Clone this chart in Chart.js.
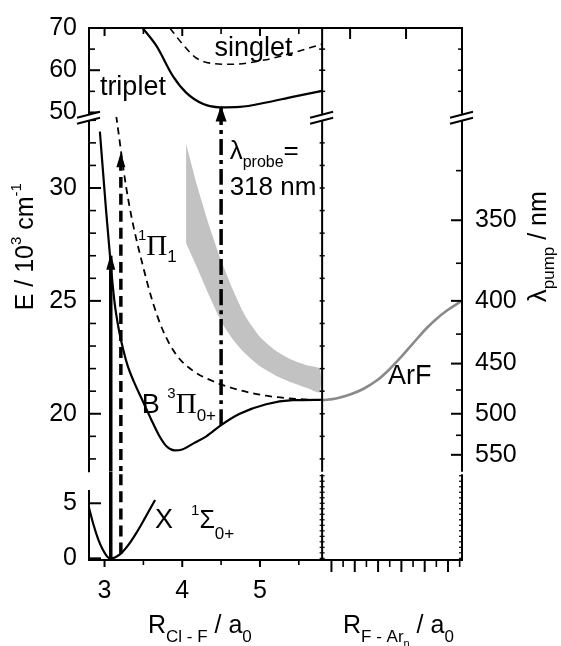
<!DOCTYPE html>
<html>
<head>
<meta charset="utf-8">
<script src="https://cdn.jsdelivr.net/npm/chart.js@4.4.1/dist/chart.umd.min.js"></script>
<style>
  html, body { margin: 0; padding: 0; background: #fff; }
  canvas { display: block; }
</style>
</head>
<body>
<canvas id="pes" width="561" height="646"></canvas>
<script>
// energies in 10^3 cm^-1, distances in a0

// axis ranges of the broken panels
const rClMin = 2.8, rClMax = 5.8;
const rArMin = 3.6, rArMax = 9.6;
const eTopMin = 49.0, eTopMax = 70;
const eMidMin = 17.45, eMidMax = 33.16;
const eBotMin = -0.15, eBotMax = 7.9;
const leftAxisBotTop = 6.2;

// tick values
const rClTicks = [3, 4, 5];
const rClMinor = [3.5, 4.5, 5.5];
const rArTicks = [4, 5, 6, 7, 8, 9];
const rArMinor = [4.5, 5.5, 6.5, 7.5, 8.5, 9.5];
const rArTopTicks = [4.8, 7.2];
const eTopTicks = [50, 60, 70];
const eTopMinor = [55, 65];
const eMidTicks = [20, 25, 30];
const eMidMinor = [18, 19, 21, 22, 23, 24, 26, 27, 28, 29, 31, 32, 33];
const eBotTicks = [0, 5];
const eBotFine = [0, 0.5, 1, 1.5, 2, 2.5, 3, 3.5, 4, 4.5, 5, 5.5, 6, 6.5, 7, 7.5];
const lambdaTicks = [350, 400, 450, 500, 550];
const lambdaMinor = [325, 375, 425, 475, 525];

// potential curves
const groundR = [2.80, 2.86, 2.92, 2.98, 3.03, 3.08, 3.14, 3.22, 3.30, 3.40, 3.52, 3.65];
const groundE = [4.6, 3.0, 1.7, 0.75, 0.2, 0.0, 0.1, 0.5, 1.15, 2.2, 3.65, 5.3];
const bStateR = [2.94, 3.02, 3.08, 3.13, 3.18, 3.24, 3.30, 3.38, 3.50, 3.60, 3.70, 3.80, 3.90, 4.00, 4.15, 4.31, 4.50, 4.74, 5.08, 5.42, 5.80];
const bStateE = [32.5, 29.0, 26.6, 24.9, 23.8, 22.85, 22.1, 21.4, 20.5, 19.75, 19.05, 18.55, 18.38, 18.42, 18.7, 19.0, 19.5, 20.0, 20.42, 20.6, 20.62];
const pi1R = [3.15, 3.28, 3.36, 3.49, 3.62, 3.75, 3.92, 4.14, 4.39, 4.65, 5.08, 5.51, 5.80];
const pi1E = [33.2, 30.0, 28.5, 26.6, 24.95, 23.7, 22.63, 21.9, 21.45, 21.13, 20.8, 20.65, 20.6];
const tripletR = [3.49, 3.67, 3.88, 4.05, 4.27, 4.48, 4.74, 5.08, 5.42, 5.80];
const tripletE = [70, 65.7, 58.6, 54.7, 52.0, 51.2, 51.3, 52.35, 53.7, 55.1];
const singletR = [3.84, 3.99, 4.18, 4.39, 4.65, 5.08, 5.42, 5.80];
const singletE = [70, 66.5, 62.9, 61.6, 61.4, 62.5, 64.1, 66.2];
const arfR = [3.6, 4.2, 4.8, 5.4, 5.94, 6.45, 6.94, 7.5, 8.09, 8.5, 8.94, 9.59];
const arfE = [20.6, 20.68, 20.85, 21.12, 21.47, 21.93, 22.46, 23.12, 23.8, 24.2, 24.56, 25.0];

// shaded band (upper and lower edge)
const bandUpperR = [4.05, 4.2, 4.35, 4.5, 4.65, 4.8, 5.0, 5.2, 5.4, 5.6, 5.77];
const bandUpperE = [31.95, 30.0, 28.3, 26.8, 25.5, 24.4, 23.4, 22.8, 22.4, 22.15, 22.0];
const bandLowerR = [4.05, 4.2, 4.35, 4.5, 4.65, 4.8, 5.0, 5.2, 5.4, 5.6, 5.77];
const bandLowerE = [27.55, 26.4, 25.2, 24.1, 23.3, 22.7, 22.1, 21.7, 21.4, 21.15, 20.95];

// vertical transitions: pump (solid, dashed) and probe (dash-dot)
const arrowR = [3.08, 3.21, 4.50];
const arrowFrom = [0.0, 0.45, 19.5];
const arrowTo = [27.0, 31.5, 51.2];

const SANS = "'Liberation Sans', Arial, Helvetica, sans-serif";
const SERIF = "'Liberation Serif', 'Times New Roman', serif";

Chart.defaults.font.family = SANS;
Chart.defaults.font.size = 25;
Chart.defaults.color = '#000';

const panelRange = { yBot: [eBotMin, eBotMax], yMid: [eMidMin, eMidMax], yTop: [eTopMin, eTopMax] };

function pts(xs, ys) {
  return xs.map((x, i) => ({ x: x, y: ys[i] }));
}

const datasets = [];
function curve(xs, ys, xAxis, yAxis, style) {
  datasets.push(Object.assign({
    type: 'line',
    data: pts(xs, ys),
    xAxisID: xAxis,
    yAxisID: yAxis,
    pointRadius: 0,
    borderColor: '#000',
    borderWidth: 2,
    fill: false,
    cubicInterpolationMode: 'monotone',
    order: 1
  }, style));
}

// band as closed shape
datasets.push({
  type: 'line',
  data: pts(bandUpperR, bandUpperE).concat(pts(bandLowerR, bandLowerE).reverse()),
  xAxisID: 'xL', yAxisID: 'yMid',
  pointRadius: 0, borderWidth: 0, borderColor: 'rgba(0,0,0,0)',
  backgroundColor: '#c2c2c2', fill: 'shape', tension: 0.2, order: 10
});

curve(groundR, groundE, 'xL', 'yBot', { borderWidth: 2.2 });
curve(bStateR, bStateE, 'xL', 'yMid', { borderWidth: 2.2 });
curve(pi1R, pi1E, 'xL', 'yMid', { borderWidth: 1.8, borderDash: [7, 5] });
curve(tripletR, tripletE, 'xL', 'yTop', { borderWidth: 2.2 });
curve(singletR, singletE, 'xL', 'yTop', { borderWidth: 1.6, borderDash: [7, 5] });
curve(arfR, arfE, 'xR', 'yMid', { borderWidth: 2.6, borderColor: '#8a8a8a' });

const arrowStyles = [
  { borderWidth: 3.5 },
  { borderWidth: 3.5, borderDash: [11, 6] },
  { borderWidth: 3.5, borderDash: [16, 5, 4, 5] }
];
arrowR.forEach((r, i) => {
  ['yBot', 'yMid', 'yTop'].forEach(id => {
    const lo = panelRange[id][0], hi = panelRange[id][1];
    const a = Math.max(arrowFrom[i], lo - 1), b = Math.min(arrowTo[i], hi + 1);
    if (a < b) curve([r, r], [a, b], 'xL', id, Object.assign({ tension: 0, order: 0 }, arrowStyles[i]));
  });
});

// state labels, placed in data coordinates: [text, size, dy, family, dx]
const stateLabels = [
  { x: 'xL', y: 'yTop', at: [2.94, 54.2], parts: [['triplet', 27]] },
  { x: 'xL', y: 'yTop', at: [4.415, 63.3], parts: [['singlet', 27]] },
  { x: 'xL', y: 'yMid', at: [4.61, 31.28], parts: [['λ', 26], ['probe', 16, 8], ['=', 26]] },
  { x: 'xL', y: 'yMid', at: [4.61, 29.69], parts: [['318 nm', 26]] },
  { x: 'xL', y: 'yMid', at: [3.43, 27.05], parts: [['1', 15, -15], ['Π', 29, 0, SERIF], ['1', 17, 7]] },
  { x: 'xL', y: 'yMid', at: [3.48, 20.04], parts: [['B ', 27], ['3', 15, -15], ['Π', 29, 0, SERIF], ['0+', 17, 8]] },
  { x: 'xL', y: 'yBot', at: [3.65, 2.74], parts: [['X', 27], ['1', 15, -13, SANS, 18], ['Σ', 25, 0], ['0+', 17, 11]] },
  { x: 'xR', y: 'yMid', at: [6.43, 21.32], parts: [['ArF', 27]] }
];

const yTitleParts = [['E / 10', 25], ['3', 15, -12], [' cm', 25], ['-1', 15, -12]];
const lambdaTitleParts = [['λ', 26], ['pump', 17, 8], [' / nm', 25]];
const xTitleLeftParts = [['R', 25], ['Cl - F', 17, 9], [' / a', 25], ['0', 17, 9]];
const xTitleRightParts = [['R', 25], ['F - Ar', 17, 9], ['n', 11, 14], [' / a', 25], ['0', 17, 9]];

function drawRich(ctx, x, y, parts) {
  let cx = x;
  parts.forEach(p => {
    const t = p[0], size = p[1], dy = p[2] || 0, fam = p[3] || SANS, dx = p[4] || 0;
    cx += dx;
    ctx.font = size + 'px ' + fam;
    ctx.fillText(t, cx, y + dy);
    cx += ctx.measureText(t).width;
  });
  return cx - x;
}

function richWidth(ctx, parts) {
  let w = 0;
  parts.forEach(p => {
    ctx.font = p[1] + 'px ' + (p[3] || SANS);
    w += (p[4] || 0) + ctx.measureText(p[0]).width;
  });
  return w;
}

// clip every curve to its own panel
const panelClip = {
  id: 'panelClip',
  beforeDatasetDraw(chart, args) {
    const m = args.meta, ctx = chart.ctx;
    ctx.save();
    ctx.beginPath();
    ctx.rect(m.xScale.left, m.yScale.top, m.xScale.right - m.xScale.left, m.yScale.bottom - m.yScale.top);
    ctx.clip();
  },
  afterDatasetDraw(chart) {
    chart.ctx.restore();
  }
};

const decor = {
  id: 'decor',
  afterDatasetsDraw(chart) {
    const ctx = chart.ctx, s = chart.scales, a = chart.chartArea;
    const xDiv = s.xL.right;
    ctx.save();
    ctx.strokeStyle = '#000';
    ctx.lineCap = 'butt';
    const line = (x1, y1, x2, y2, w) => {
      ctx.lineWidth = w;
      ctx.beginPath();
      ctx.moveTo(x1, y1);
      ctx.lineTo(x2, y2);
      ctx.stroke();
    };
    // frame
    const gapY = s.yMid.bottom;
    line(a.left - 1, a.top, a.right + 1, a.top, 2);
    line(a.left - 1, a.bottom, a.right + 1, a.bottom, 2);
    line(a.left, a.top, a.left, gapY + 1, 2);
    line(a.left, s.yBot.getPixelForValue(leftAxisBotTop), a.left, a.bottom, 2);
    [xDiv, a.right].forEach(x => {
      line(x, a.top, x, gapY + 0.5, 2);
      line(x, gapY + 3, x, a.bottom, 2);
    });

    // ticks along a vertical line (left / right extents) and a horizontal line (up / down)
    const yTicks = (scale, vals, x, l, r, w) => vals.forEach(v => {
      const y = scale.getPixelForValue(v);
      line(x - l, y, x + r, y, w);
    });
    const xTicks = (scale, vals, y, u, d, w) => vals.forEach(v => {
      const x = scale.getPixelForValue(v);
      line(x, y - u, x, y + d, w);
    });

    yTicks(s.yTop, eTopTicks, a.left, 0, 11, 2);
    yTicks(s.yTop, eTopMinor, a.left, 0, 6, 1.6);
    yTicks(s.yMid, eMidTicks, a.left, 0, 12, 2);
    yTicks(s.yMid, eMidMinor, a.left, 0, 7, 1.6);
    yTicks(s.yBot, eBotTicks, a.left, 0, 12, 2);

    yTicks(s.yTop, eTopMinor.concat([60]), xDiv, 3, 3, 1.5);
    yTicks(s.yMid, eMidTicks.concat(eMidMinor), xDiv, 2.5, 2.5, 1.5);
    yTicks(s.yBot, eBotFine, xDiv, 2.5, 2.5, 1.2);

    yTicks(s.rTop, eTopMinor.concat([60]), a.right, 4, 0, 1.5);
    yTicks(s.rMid, lambdaTicks.map(l => 1e4 / l), a.right, 11, 0, 2);
    yTicks(s.rMid, lambdaMinor.map(l => 1e4 / l), a.right, 6, 0, 1.6);
    yTicks(s.rBot, eBotFine, a.right, 3, 0, 1.2);

    xTicks(s.xL, rClTicks, a.top, 0, 8, 2);
    xTicks(s.xL, rClMinor, a.top, 0, 6, 1.6);
    xTicks(s.xR, rArTopTicks, a.top, 0, 11, 2);
    xTicks(s.xL, rClTicks, a.bottom, 0, 7, 2);
    xTicks(s.xL, rClMinor, a.bottom, 0, 5, 1.6);
    xTicks(s.xR, rArTicks, a.bottom, 0, 12, 2);
    xTicks(s.xR, rArMinor, a.bottom, 0, 7, 1.6);

    // axis break marks
    const by = s.yTop.bottom;
    [a.left, xDiv, a.right].forEach(x => {
      ctx.fillStyle = '#fff';
      ctx.beginPath();
      ctx.moveTo(x - 12, by + 1);
      ctx.lineTo(x + 11, by - 5);
      ctx.lineTo(x + 11, by + 1);
      ctx.lineTo(x - 12, by + 7);
      ctx.closePath();
      ctx.fill();
      line(x - 12, by + 1, x + 11, by - 5, 2);
      line(x - 12, by + 7, x + 11, by + 1, 2);
    });

    // arrow heads
    const headSize = [[9, 16], [9, 15], [11, 16]];
    ctx.fillStyle = '#000';
    arrowR.forEach((r, i) => {
      const id = ['yBot', 'yMid', 'yTop'].find(k => arrowTo[i] >= panelRange[k][0] && arrowTo[i] <= panelRange[k][1]);
      const x = s.xL.getPixelForValue(r), y = s[id].getPixelForValue(arrowTo[i]) - 2;
      const w = headSize[i][0], l = headSize[i][1];
      ctx.beginPath();
      ctx.moveTo(x, y);
      ctx.lineTo(x - w / 2, y + l);
      ctx.lineTo(x + w / 2, y + l);
      ctx.closePath();
      ctx.fill();
    });
    ctx.restore();
  },
  afterDraw(chart) {
    const ctx = chart.ctx, s = chart.scales;
    ctx.save();
    ctx.fillStyle = '#000';
    ctx.textAlign = 'left';
    ctx.textBaseline = 'alphabetic';
    stateLabels.forEach(lb => {
      drawRich(ctx, s[lb.x].getPixelForValue(lb.at[0]), s[lb.y].getPixelForValue(lb.at[1]), lb.parts);
    });

    // axis titles, centred at E = 27.4 on the middle panel
    const midY = s.yMid.getPixelForValue(27.4);
    let w = richWidth(ctx, yTitleParts);
    ctx.save();
    ctx.translate(33, midY + w / 2);
    ctx.rotate(-Math.PI / 2);
    drawRich(ctx, 0, 0, yTitleParts);
    ctx.restore();

    w = richWidth(ctx, lambdaTitleParts);
    ctx.save();
    ctx.translate(546, midY + w / 2);
    ctx.rotate(-Math.PI / 2);
    drawRich(ctx, 0, 0, lambdaTitleParts);
    ctx.restore();

    drawRich(ctx, 148, 633, xTitleLeftParts);
    drawRich(ctx, 343, 633, xTitleRightParts);
    ctx.restore();
  }
};

const noGrid = { display: false, drawTicks: false };
const noBorder = { display: false };
const setTicks = vals => scale => { scale.ticks = vals.map(v => ({ value: v })); };

new Chart(document.getElementById('pes'), {
  type: 'line',
  data: { datasets: datasets },
  options: {
    responsive: false,
    animation: false,
    events: [],
    layout: { padding: { top: 25, left: 0, right: 0, bottom: 0 } },
    plugins: { legend: { display: false }, tooltip: { enabled: false }, title: { display: false } },
    scales: {
      xL: {
        type: 'linear', position: 'bottom', stack: 'x', stackWeight: 5,
        min: rClMin, max: rClMax, grid: noGrid, border: noBorder,
        afterBuildTicks: setTicks(rClTicks),
        ticks: { padding: 16, autoSkip: false, maxRotation: 0 },
        afterFit: sc => { sc.height = 86; }
      },
      xR: {
        type: 'linear', position: 'bottom', stack: 'x', stackWeight: 3,
        min: rArMin, max: rArMax, grid: noGrid, border: noBorder,
        ticks: { display: false },
        afterFit: sc => { sc.height = 86; }
      },
      yBot: {
        type: 'linear', position: 'left', stack: 'yl', stackWeight: 1,
        min: eBotMin, max: eBotMax, grid: noGrid, border: noBorder,
        afterBuildTicks: setTicks(eBotTicks),
        ticks: { padding: 12, autoSkip: false },
        afterFit: sc => { sc.width = 89; }
      },
      yMid: {
        type: 'linear', position: 'left', stack: 'yl', stackWeight: 4,
        min: eMidMin, max: eMidMax, grid: noGrid, border: noBorder,
        afterBuildTicks: setTicks(eMidTicks),
        ticks: { padding: 12, autoSkip: false },
        afterFit: sc => { sc.width = 89; }
      },
      yTop: {
        type: 'linear', position: 'left', stack: 'yl', stackWeight: 1,
        min: eTopMin, max: eTopMax, grid: noGrid, border: noBorder,
        afterBuildTicks: setTicks(eTopTicks),
        ticks: { padding: 12, autoSkip: false },
        afterFit: sc => { sc.width = 89; }
      },
      rTop: {
        type: 'linear', position: 'right', stack: 'yr', stackWeight: 1,
        min: eTopMin, max: eTopMax, grid: noGrid, border: noBorder,
        ticks: { display: false },
        afterFit: sc => { sc.width = 99; }
      },
      rMid: {
        type: 'linear', position: 'right', stack: 'yr', stackWeight: 4,
        min: eMidMin, max: eMidMax, grid: noGrid, border: noBorder,
        afterBuildTicks: setTicks(lambdaTicks.map(l => 1e4 / l)),
        ticks: { padding: 13, autoSkip: false, callback: v => Math.round(1e4 / v) },
        afterFit: sc => { sc.width = 99; }
      },
      rBot: {
        type: 'linear', position: 'right', stack: 'yr', stackWeight: 1,
        min: eBotMin, max: eBotMax, grid: noGrid, border: noBorder,
        ticks: { display: false },
        afterFit: sc => { sc.width = 99; }
      }
    }
  },
  plugins: [panelClip, decor]
});
</script>
</body>
</html>
